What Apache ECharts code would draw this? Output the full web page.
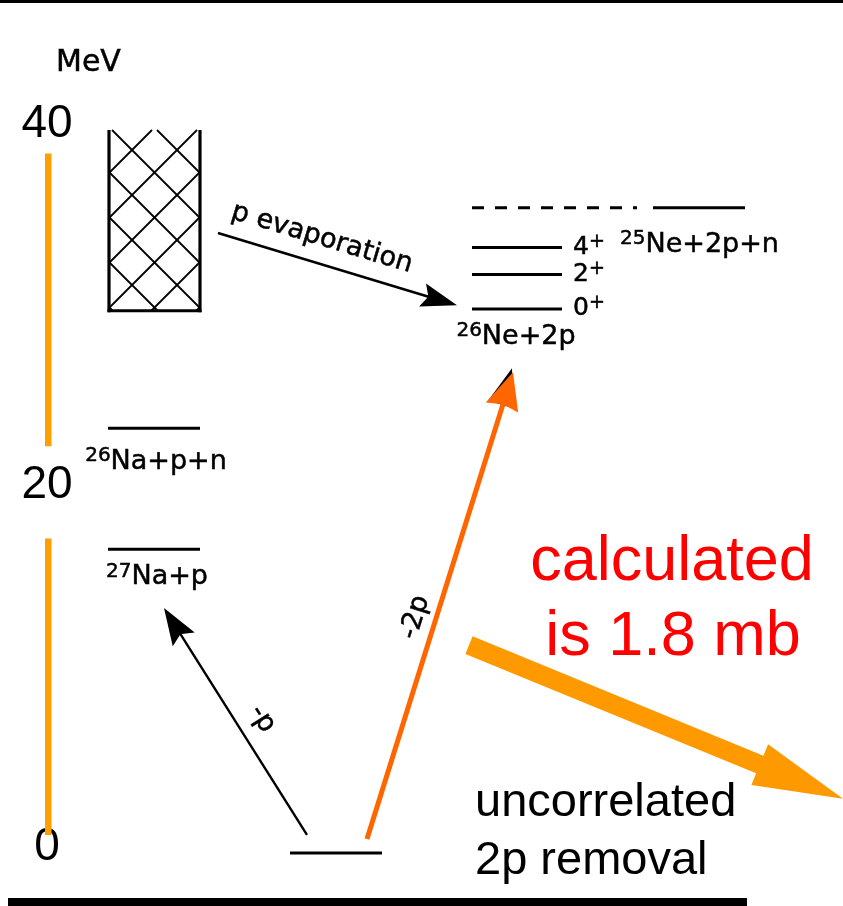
<!DOCTYPE html>
<html>
<head>
<meta charset="utf-8">
<script src="https://cdn.jsdelivr.net/npm/echarts@6/dist/echarts.min.js"></script>
<style>
  html, body { margin: 0; padding: 0; background: #fff; }
  #chart { width: 843px; height: 906px; }
</style>
</head>
<body>
<div id="chart"></div>
<script>
// ---- Data -------------------------------------------------------------
// Energy scale ticks (MeV)
const energyTicks = [0, 20, 40];

// Ground state of 28Mg sits at 0 MeV
const groundEnergy = 0;

// Sodium channels: thresholds above the 28Mg ground state (MeV)
const sodiumChannels = ['27|Na+p', '26|Na+p+n'];
const sodiumEnergies = [16.8, 23.5];

// 26Ne + 2p: ground state and first excited states (MeV)
const neonChannel = '26|Ne+2p';
const neonSpins = ['0', '2', '4'];
const neonEnergies = [30.1, 32.0, 33.5];

// 25Ne + 2p + n threshold (MeV)
const ne25Channel = '25|Ne+2p+n';
const ne25Energy = 35.7;

// Excitation range populated before evaporation (MeV)
const hatchedRange = [30, 40];

// Segments of the orange energy bar (MeV)
const scaleBarRanges = [[1.0, 17.4], [22.5, 38.7]];

// Transitions: start and end energies (MeV)
const transitionLabels = ['p evaporation', '-p', '-2p', ''];
const transitionFrom = [34.3, 1.0, 0.78, 11.5];
const transitionTo = [30.3, 13.55, 26.6, 3.0];

// Calculated cross section (mb)
const calculatedSigma = 1.8;

// ---- Layout (horizontal positions in diagram units) ---------------------
const layout = {
  groundX: [290, 382],
  sodiumX: [108, 200],
  neonX: [472, 562],
  ne25DashX: [472, 637],
  ne25X: [653, 745],
  hatchX: [109, 200],
  barX: [45, 51.5],
  transitionX: [[218, 457], [307, 164], [367, 513], [469, 843]]
};

const SCAN_FONT = 'DejaVu Sans';
const NOTE_FONT = 'Liberation Sans';
const INK = '#000';

const transitionStyles = [
  { color: '#000', width: 2.6, headLength: 36, headWidth: 24, notch: 0.15, t: 0.405, offset: 25 },
  { color: '#000', width: 2.4, headLength: 37, headWidth: 26, notch: 0.15, t: 0.455, offset: -24 },
  { color: '#FF6600', width: 5, headLength: 37, headWidth: 34, notch: 0.08, t: 0.462, offset: 20,
    under: { color: '#000', dx: -1, dy: -4, headLength: 38, headWidth: 26 } },
  { color: '#FF9900', width: 19, headLength: 90, headWidth: 44, notch: 0, t: 0, offset: 0 }
];

// Slight stroke thickens the glyphs a touch, like the printed labels
function inkStyle(size) {
  return { fontFamily: SCAN_FONT, fontSize: size, fill: INK, stroke: INK, lineWidth: 0.5 };
}

function richLabel(spec, mainSize, supSize) {
  const parts = spec.split('|');
  return {
    text: '{s|' + parts[0] + '}{m|' + parts[1] + '}',
    rich: {
      s: Object.assign(inkStyle(supSize), { lineHeight: supSize, verticalAlign: 'top' }),
      m: Object.assign(inkStyle(mainSize), { lineHeight: mainSize + 5, verticalAlign: 'middle' })
    }
  };
}

function spinLabel(j) {
  return {
    text: '{m|' + j + '}{s|+}',
    rich: {
      s: Object.assign(inkStyle(19), { lineHeight: 19, verticalAlign: 'top' }),
      m: Object.assign(inkStyle(25), { lineHeight: 30, verticalAlign: 'middle' })
    }
  };
}

// ---- Level lines -------------------------------------------------------
const levelData = [];
levelData.push([layout.groundX[0], layout.groundX[1], groundEnergy, 0]);
sodiumEnergies.forEach(e => levelData.push([layout.sodiumX[0], layout.sodiumX[1], e, 0]));
neonEnergies.forEach(e => levelData.push([layout.neonX[0], layout.neonX[1], e, 0]));
levelData.push([layout.ne25DashX[0], layout.ne25DashX[1], ne25Energy, 1]);
levelData.push([layout.ne25X[0], layout.ne25X[1], ne25Energy, 0]);

// ---- Level labels ------------------------------------------------------
const sodiumMid = (layout.sodiumX[0] + layout.sodiumX[1]) / 2;
const neonMid = (layout.neonX[0] + layout.neonX[1]) / 2;
const labelItems = [];
labelItems.push(Object.assign({ x: sodiumMid + 3, e: sodiumEnergies[0], dy: 28, align: 'center' },
  richLabel(sodiumChannels[0], 27, 20)));
labelItems.push(Object.assign({ x: sodiumMid + 2, e: sodiumEnergies[1], dy: 34, align: 'center' },
  richLabel(sodiumChannels[1], 27, 20)));
labelItems.push(Object.assign({ x: neonMid - 1, e: neonEnergies[0], dy: 28, align: 'center' },
  richLabel(neonChannel, 27, 20)));
labelItems.push(Object.assign({ x: 620, e: ne25Energy, dy: 37, align: 'left' },
  richLabel(ne25Channel, 27, 20)));
neonSpins.forEach((j, i) => {
  labelItems.push(Object.assign({ x: layout.neonX[1] + 11, e: neonEnergies[i], dy: 0, align: 'left' }, spinLabel(j)));
});

// ---- Transitions -------------------------------------------------------
const transitionData = transitionFrom.map((e0, i) =>
  [layout.transitionX[i][0], e0, layout.transitionX[i][1], transitionTo[i]]);

function arrowPoints(p0, p1, o) {
  const dx = p1[0] - p0[0], dy = p1[1] - p0[1];
  const len = Math.hypot(dx, dy);
  const ux = dx / len, uy = dy / len;
  const nx = -uy, ny = ux;
  const hl = o.headLength, hw = o.headWidth / 2, sw = o.width / 2;
  const bx = p1[0] - ux * hl, by = p1[1] - uy * hl;
  const kx = bx + ux * hl * (o.notch || 0), ky = by + uy * hl * (o.notch || 0);
  return [
    [p0[0] + nx * sw, p0[1] + ny * sw],
    [kx + nx * sw, ky + ny * sw],
    [bx + nx * hw, by + ny * hw],
    [p1[0], p1[1]],
    [bx - nx * hw, by - ny * hw],
    [kx - nx * sw, ky - ny * sw],
    [p0[0] - nx * sw, p0[1] - ny * sw]
  ];
}

function headPoints(p0, p1, o, dx0, dy0) {
  const dx = p1[0] - p0[0], dy = p1[1] - p0[1];
  const len = Math.hypot(dx, dy);
  const ux = dx / len, uy = dy / len;
  const nx = -uy, ny = ux;
  const tip = [p1[0] + dx0, p1[1] + dy0];
  const bx = tip[0] - ux * o.headLength, by = tip[1] - uy * o.headLength;
  const hw = o.headWidth / 2;
  return [tip, [bx + nx * hw, by + ny * hw], [bx - nx * hw, by - ny * hw]];
}

const chart = echarts.init(document.getElementById('chart'), null, { renderer: 'canvas' });

const option = {
  animation: false,
  backgroundColor: '#fff',
  grid: { left: 0, right: 0, top: 130, bottom: 53, containLabel: false },
  xAxis: { type: 'value', min: 0, max: 843, show: false },
  yAxis: {
    type: 'value',
    min: energyTicks[0],
    max: energyTicks[energyTicks.length - 1],
    interval: energyTicks[1] - energyTicks[0],
    axisLine: { show: false },
    axisTick: { show: false },
    splitLine: { show: false },
    axisLabel: {
      inside: true, margin: 47, align: 'center',
      verticalAlign: 'bottom', lineHeight: 12,
      fontFamily: NOTE_FONT, fontSize: 46, color: '#000'
    }
  },
  series: [
    {
      // orange energy bar
      type: 'custom', coordinateSystem: 'cartesian2d', silent: true, clip: false,
      data: scaleBarRanges,
      renderItem: (params, api) => {
        const a = api.coord([layout.barX[0], api.value(1)]);
        const b = api.coord([layout.barX[1], api.value(0)]);
        return { type: 'rect', shape: { x: a[0], y: a[1], width: b[0] - a[0], height: b[1] - a[1] },
                 style: { fill: '#FF9E00' } };
      }
    },
    {
      // hatched excitation region
      type: 'custom', coordinateSystem: 'cartesian2d', silent: true, clip: false,
      data: [hatchedRange],
      renderItem: (params, api) => {
        const tl = api.coord([layout.hatchX[0], api.value(1)]);
        const br = api.coord([layout.hatchX[1], api.value(0)]);
        const x0 = tl[0], y0 = tl[1], w = br[0] - x0, h = br[1] - y0;
        const sp = 45;
        const kids = [];
        const seg = (ax, ay, bx, by, lw) => ({ type: 'line', shape: { x1: ax, y1: ay, x2: bx, y2: by },
                                               style: { stroke: '#000', lineWidth: lw } });
        for (let c = 3 - Math.ceil((h + 3) / sp) * sp; c < w; c += sp) {
          const v0 = Math.max(0, -c), v1 = Math.min(h, w - c);
          if (v1 > v0) kids.push(seg(x0 + v0 + c, y0 + v0, x0 + v1 + c, y0 + v1, 1.8));
        }
        for (let c = 43 - sp; c < w + h; c += sp) {
          const v0 = Math.max(0, c - w), v1 = Math.min(h, c);
          if (v1 > v0) kids.push(seg(x0 + c - v0, y0 + v0, x0 + c - v1, y0 + v1, 1.8));
        }
        kids.push(seg(x0, y0, x0, y0 + h + 1.5, 3.2));
        kids.push(seg(x0 + w, y0, x0 + w, y0 + h + 1.5, 3.2));
        kids.push(seg(x0 - 1.5, y0 + h, x0 + w + 1.5, y0 + h, 3.2));
        return { type: 'group', children: kids };
      }
    },
    {
      // energy levels
      type: 'custom', coordinateSystem: 'cartesian2d', silent: true, clip: false,
      data: levelData,
      renderItem: (params, api) => {
        const e = api.value(2);
        const a = api.coord([api.value(0), e]);
        const b = api.coord([api.value(1), e]);
        const dashed = api.value(3) === 1;
        return { type: 'line', shape: { x1: a[0], y1: a[1], x2: b[0], y2: b[1] },
                 style: { stroke: '#000', lineWidth: 3, lineDash: dashed ? [12, 11] : null } };
      }
    },
    {
      // level labels
      type: 'custom', coordinateSystem: 'cartesian2d', silent: true, clip: false,
      data: labelItems.map(d => [d.x, d.e]),
      renderItem: (params, api) => {
        const d = labelItems[params.dataIndex];
        const p = api.coord([api.value(0), api.value(1)]);
        return { type: 'text', x: p[0], y: p[1] + d.dy,
                 style: { text: d.text, rich: d.rich, align: d.align, verticalAlign: 'middle',
                          fontFamily: SCAN_FONT, fontSize: 27, fill: INK } };
      }
    },
    {
      // transitions
      type: 'custom', coordinateSystem: 'cartesian2d', silent: true, clip: false,
      data: transitionData,
      renderItem: (params, api) => {
        const st = transitionStyles[params.dataIndex];
        const p0 = api.coord([api.value(0), api.value(1)]);
        const p1 = api.coord([api.value(2), api.value(3)]);
        const kids = [];
        if (st.under) {
          kids.push({ type: 'polygon', shape: { points: headPoints(p0, p1, st.under, st.under.dx, st.under.dy) },
                      style: { fill: st.under.color } });
        }
        kids.push({ type: 'polygon', shape: { points: arrowPoints(p0, p1, st) }, style: { fill: st.color } });
        const label = transitionLabels[params.dataIndex];
        if (label) {
          const dx = p1[0] - p0[0], dy = p1[1] - p0[1];
          const len = Math.hypot(dx, dy);
          const ux = dx / len, uy = dy / len;
          const cx = p0[0] + dx * st.t + uy * st.offset;
          const cy = p0[1] + dy * st.t - ux * st.offset;
          let rot = -Math.atan2(dy, dx);
          if (rot > Math.PI / 2) rot -= Math.PI;
          if (rot < -Math.PI / 2) rot += Math.PI;
          kids.push({ type: 'text', x: cx, y: cy, rotation: rot,
                      style: Object.assign(inkStyle(27), { text: label, align: 'center', verticalAlign: 'middle' }) });
        }
        return { type: 'group', children: kids };
      }
    }
  ],
  graphic: [
    { type: 'rect', shape: { x: 0, y: 0, width: 843, height: 3 }, style: { fill: '#000' }, silent: true },
    { type: 'rect', shape: { x: 8, y: 898, width: 739, height: 8 }, style: { fill: '#000' }, silent: true },
    { type: 'text', x: 56, y: 63, silent: true,
      style: Object.assign(inkStyle(30), { text: 'MeV', align: 'left', verticalAlign: 'middle' }) },
    { type: 'text', x: 672, y: 563, silent: true,
      style: { text: 'calculated', fontFamily: NOTE_FONT, fontSize: 63, fill: '#FF0000', align: 'center', verticalAlign: 'middle' } },
    { type: 'text', x: 673, y: 638, silent: true,
      style: { text: 'is ' + calculatedSigma + ' mb', fontFamily: NOTE_FONT, fontSize: 63, fill: '#FF0000', align: 'center', verticalAlign: 'middle' } },
    { type: 'text', x: 475, y: 803, silent: true,
      style: { text: 'uncorrelated', fontFamily: NOTE_FONT, fontSize: 47, fill: '#000', align: 'left', verticalAlign: 'middle' } },
    { type: 'text', x: 475, y: 861, silent: true,
      style: { text: '2p removal', fontFamily: NOTE_FONT, fontSize: 47, fill: '#000', align: 'left', verticalAlign: 'middle' } }
  ]
};

chart.setOption(option);
</script>
</body>
</html>
